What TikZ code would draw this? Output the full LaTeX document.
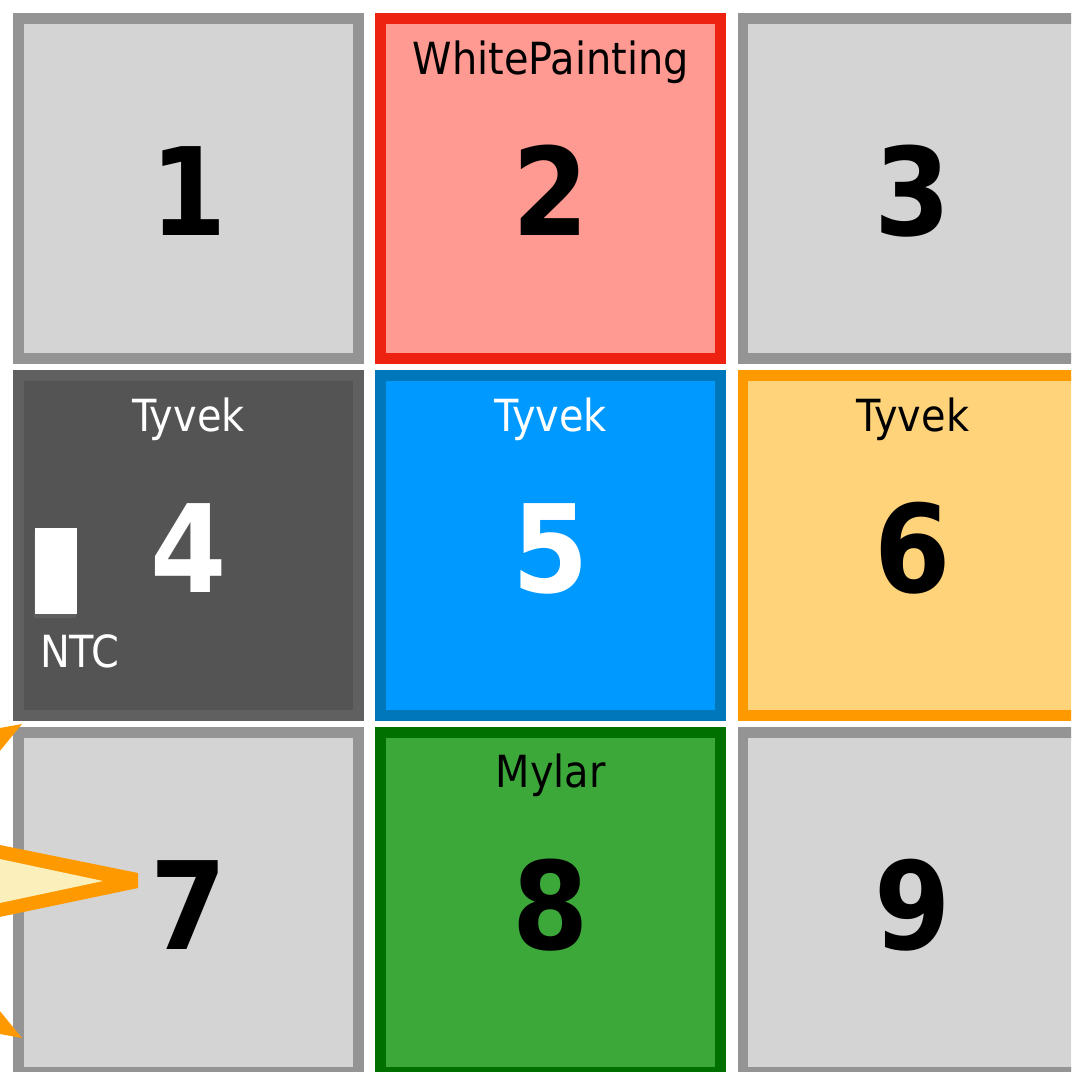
\documentclass[tikz,border=0pt]{standalone}
\usepackage{fontspec}
\setmainfont{DejaVu Sans}
\newfontfamily\condfont{DejaVu Sans Condensed}
\usetikzlibrary{positioning,shadows}
\definecolor{CellGray}{HTML}{D4D4D4}
\definecolor{CellGrayLine}{HTML}{949494}
\definecolor{DarkFill}{HTML}{545454}
\definecolor{DarkLine}{HTML}{606060}
\definecolor{PaintFill}{HTML}{FF9A92}
\definecolor{PaintLine}{HTML}{EE2211}
\definecolor{TyvekBlue}{HTML}{0099FF}
\definecolor{TyvekBlueLine}{HTML}{0077BB}
\definecolor{TyvekOrange}{HTML}{FED37A}
\definecolor{AccentOrange}{HTML}{FF9900}
\definecolor{MylarGreen}{HTML}{3CA83A}
\definecolor{MylarLine}{HTML}{007000}
\definecolor{StarFill}{HTML}{FBF0BB}
\tikzset{
  cell/.style={draw,line width=0.107cm,minimum width=3.4cm,minimum height=3.4cm,inner sep=0pt},
  graycell/.style={cell,draw=CellGrayLine,fill=CellGray},
  darkcell/.style={cell,draw=DarkLine,fill=DarkFill},
  redcell/.style={cell,draw=PaintLine,fill=PaintFill},
  bluecell/.style={cell,draw=TyvekBlueLine,fill=TyvekBlue},
  orangecell/.style={cell,draw=AccentOrange,fill=TyvekOrange},
  greencell/.style={cell,draw=MylarLine,fill=MylarGreen},
  num/.style={anchor=base,inner sep=0pt,font=\condfont\fontsize{34.7}{35}\selectfont\bfseries},
  lbl/.style={anchor=base,inner sep=0pt,font=\condfont\fontsize{12.6}{14}\selectfont}
}

\begin{document}
\begin{tikzpicture}
  \useasboundingbox (0,0) rectangle (10.71,-10.72);
  \clip (0,0) rectangle (10.71,-10.72);

  % grid of samples
  \node[graycell] (c1) at (1.886,-1.886) {};
  \node[redcell,right=0.115cm of c1] (c2) {};
  \node[graycell,right=0.115cm of c2] (c3) {};
  \node[darkcell,below=0.063cm of c1] (c4) {};
  \node[bluecell,right=0.115cm of c4] (c5) {};
  \node[orangecell,right=0.115cm of c5] (c6) {};
  \node[graycell,below=0.063cm of c4] (c7) {};
  \node[greencell,right=0.115cm of c7] (c8) {};
  \node[graycell,right=0.115cm of c8] (c9) {};

  \foreach \i in {1,2,3,6,7,8,9}
    \node[num] (n\i) at ([yshift=-0.47cm]c\i.center) {\i};
  \foreach \i in {4,5}
    \node[num,text=white] (n\i) at ([yshift=-0.47cm]c\i.center) {\i};

  \node[lbl] (paint) at ([yshift=-0.61cm]c2.north) {WhitePainting};
  \node[lbl,text=white] (tyvek4) at ([yshift=-0.615cm]c4.north) {Tyvek};
  \node[lbl,text=white] (tyvek5) at ([yshift=-0.615cm]c5.north) {Tyvek};
  \node[lbl] (tyvek6) at ([yshift=-0.615cm]c6.north) {Tyvek};
  \node[lbl] (mylar) at ([yshift=-0.60cm]c8.north) {Mylar};

  % sensor
  \node[fill=white,minimum width=0.42cm,minimum height=0.86cm,inner sep=0pt,
    drop shadow={shadow xshift=-0.4pt,shadow yshift=-1.2pt,opacity=0.25}]
    (sensor) at ([shift={(-1.326,-0.255)}]c4.center) {};
  \node[lbl,text=white,anchor=north west,below right=0.19cm and 0.05cm of sensor.south west] (ntc) {NTC};

  % lamp
  \fill[AccentOrange] (-0.1,-8.43) -- (1.38,-8.73) -- (1.38,-8.88) -- (-0.1,-9.19) -- cycle;
  \fill[StarFill] (-0.1,-8.569) -- (1.03,-8.81) -- (-0.1,-9.051) -- cycle;
  \fill[AccentOrange] (-0.1,-7.298) -- (0.22,-7.24) -- (-0.1,-7.63) -- cycle;
  \fill[AccentOrange] (-0.1,-10.322) -- (0.22,-10.38) -- (-0.1,-9.99) -- cycle;
\end{tikzpicture}
\end{document}
